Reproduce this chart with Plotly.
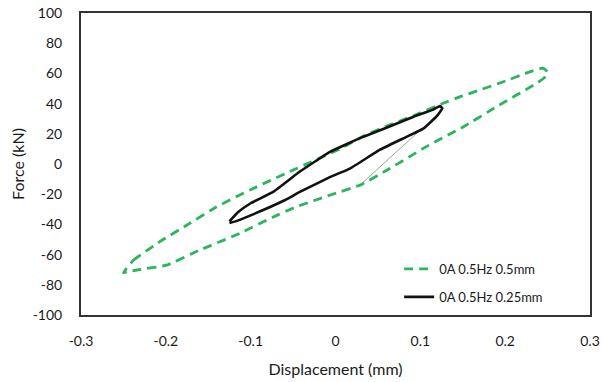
import plotly.graph_objects as go

# Green dashed loop: 0A 0.5Hz 0.5mm
green_x = [-0.250, -0.238, -0.207, -0.175, -0.140, -0.100, -0.058, -0.046, 0.005, 0.033, 0.060, 0.092,
           0.127, 0.147, 0.170, 0.198, 0.229, 0.244, 0.250, 0.246, 0.237, 0.190, 0.151, 0.107,
           0.064, 0.029, -0.006, -0.046, -0.073, -0.113, -0.160, -0.199, -0.234, -0.246, -0.250]
green_y = [-72.0, -63.6, -51.4, -40.4, -28.3, -17.0, -6.0, -3.0, 10.0, 18.5, 25.0, 32.0,
           40.2, 44.6, 49.0, 54.5, 61.0, 63.5, 61.0, 57.0, 53.4, 38.0, 24.7, 11.5,
           -3.0, -14.0, -20.5, -28.3, -35.0, -46.0, -57.0, -67.0, -70.2, -71.5, -72.0]

# Black solid loop: 0A 0.5Hz 0.25mm
black_x = [-0.125, -0.115, -0.100, -0.073, -0.042, -0.006, 0.033, 0.060, 0.092, 0.115, 0.123, 0.126,
           0.120, 0.104, 0.080, 0.052, 0.017, -0.006, -0.042, -0.060, -0.100, -0.118, -0.125]
black_y = [-38.0, -32.0, -26.0, -18.3, -5.0, 8.2, 18.1, 24.0, 31.3, 36.0, 38.4, 37.0,
           32.0, 23.6, 17.0, 9.3, -3.0, -8.5, -18.5, -24.0, -34.0, -38.0, -39.0]

# Thin connector line
thin_x = [0.029, 0.100]
thin_y = [-13.9, 22.5]

x_ticks = [-0.3, -0.2, -0.1, 0, 0.1, 0.2, 0.3]
y_ticks = [-100, -80, -60, -40, -20, 0, 20, 40, 60, 80, 100]

fig = go.Figure()
fig.add_trace(go.Scatter(x=thin_x, y=thin_y, mode="lines",
                         line=dict(color="#777777", width=0.7), showlegend=False))
fig.add_trace(go.Scatter(x=green_x, y=green_y, mode="lines", name="0A 0.5Hz 0.5mm", legendgroup="g",
                         line=dict(color="#2db55d", width=2.8, dash="9px,6px", shape="spline", smoothing=0.3)))
fig.add_trace(go.Scatter(x=black_x, y=black_y, mode="lines", name="0A 0.5Hz 0.25mm", legendgroup="b",
                         line=dict(color="#111111", width=2.6, shape="spline", smoothing=0.3)))

fig.update_layout(
    width=602, height=382,
    margin=dict(l=81, r=12, t=13, b=67),
    paper_bgcolor="white", plot_bgcolor="white",
    font=dict(family="Lato, Open Sans, sans-serif", color="#1a1a1a"),
    legend=dict(x=0.625, y=0.01, xanchor="left", yanchor="bottom",
                bgcolor="rgba(0,0,0,0)", font=dict(size=13), tracegroupgap=8),
    xaxis=dict(range=[-0.3, 0.3], tickvals=x_ticks, ticktext=[str(v) for v in x_ticks],
               showgrid=False, zeroline=False, showline=True, linecolor="#333333", linewidth=2,
               mirror=True, ticks="", tickfont=dict(size=14), ticklabelstandoff=12, automargin=False,
               title=dict(text="Displacement (mm)", font=dict(size=16), standoff=16)),
    yaxis=dict(range=[-100, 100], tickvals=y_ticks, ticktext=[str(v) for v in y_ticks],
               showgrid=False, zeroline=False, showline=True, linecolor="#333333", linewidth=2,
               mirror=True, ticks="", tickfont=dict(size=14), ticklabelstandoff=14, automargin=False,
               title=dict(text="Force (kN)", font=dict(size=16), standoff=4)),
)

fig.write_html("out.html")
